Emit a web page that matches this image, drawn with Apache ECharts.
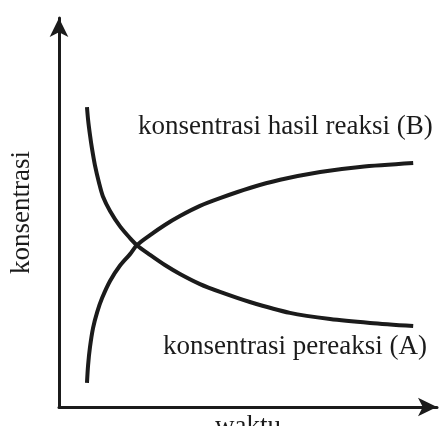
<!DOCTYPE html>
<html>
<head>
<meta charset="utf-8">
<script src="https://cdn.jsdelivr.net/npm/echarts@6/dist/echarts.min.js"></script>
<style>html,body{margin:0;padding:0;background:#fff}#c{width:443px;height:426px}</style>
</head>
<body>
<div id="c"></div>
<script>
// Time (arbitrary units) and concentrations
var timeA = [7.4, 7.7, 8.2, 8.7, 9.5, 10.6, 11.6, 13.5, 16.1, 18.8, 20.6, 24.1, 28.0, 32.0, 37.3, 42.6, 50.5, 61.1, 71.7, 82.3, 93.7];
var concA = [77.1, 73.8, 69.9, 66.6, 62.2, 57.6, 54.2, 50.4, 46.5, 43.4, 41.6, 39.1, 36.5, 34.2, 31.6, 29.6, 27.0, 24.2, 22.6, 21.6, 20.8];
var timeB = [7.4, 7.7, 8.2, 9.0, 10.1, 11.4, 13.5, 16.1, 18.8, 20.6, 24.1, 28.0, 32.0, 37.3, 42.6, 50.5, 58.5, 69.1, 79.6, 93.7];
var concB = [6.2, 10.8, 15.4, 20.3, 24.4, 28.0, 32.4, 36.3, 39.3, 41.6, 44.2, 46.8, 49.1, 51.7, 53.7, 56.3, 58.4, 60.4, 61.7, 62.7];
var labelA = 'konsentrasi pereaksi (A)';
var labelB = 'konsentrasi hasil reaksi (B)';
var xName = 'waktu';
var yName = 'konsentrasi';

function pairs(xs, ys){ return xs.map(function(x,i){ return [x, ys[i]]; }); }

var font = '"Liberation Serif", "DejaVu Serif", serif';
var ink = '#1b1b1b';
var chart = echarts.init(document.getElementById('c'));
chart.setOption({
  animation: false,
  backgroundColor: '#fff',
  grid: { left: 59, right: 6, top: 18, bottom: 19, outerBoundsMode: 'none', containLabel: false },
  xAxis: {
    type: 'value', min: 0, max: 100,
    name: xName, nameLocation: 'middle', nameGap: 6,
    nameTextStyle: { fontFamily: font, fontSize: 27, color: ink, verticalAlign: 'top' },
    axisLine: { show: true, symbol: ['none', 'arrow'], symbolSize: [14, 19], lineStyle: { color: ink, width: 3 } },
    axisTick: { show: false }, axisLabel: { show: false }, splitLine: { show: false }
  },
  yAxis: {
    type: 'value', min: 0, max: 100,
    name: yName, nameLocation: 'middle', nameGap: 24, nameRotate: 90,
    nameTextStyle: { fontFamily: font, fontSize: 27, color: ink },
    axisLine: { show: true, symbol: ['none', 'arrow'], symbolSize: [14, 19], lineStyle: { color: ink, width: 3 } },
    axisTick: { show: false }, axisLabel: { show: false }, splitLine: { show: false }
  },
  series: [
    { name: labelA, type: 'line', smooth: 0.3, showSymbol: false, data: pairs(timeA, concA),
      lineStyle: { color: ink, width: 4 } },
    { name: labelB, type: 'line', smooth: 0.3, showSymbol: false, data: pairs(timeB, concB),
      lineStyle: { color: ink, width: 4 } }
  ],
  graphic: [
    { type: 'text', left: 138, top: 113, style: { text: labelB, font: '27px ' + font, fill: ink } },
    { type: 'text', left: 163, top: 333, style: { text: labelA, font: '27px ' + font, fill: ink } }
  ]
});
</script>
</body>
</html>
